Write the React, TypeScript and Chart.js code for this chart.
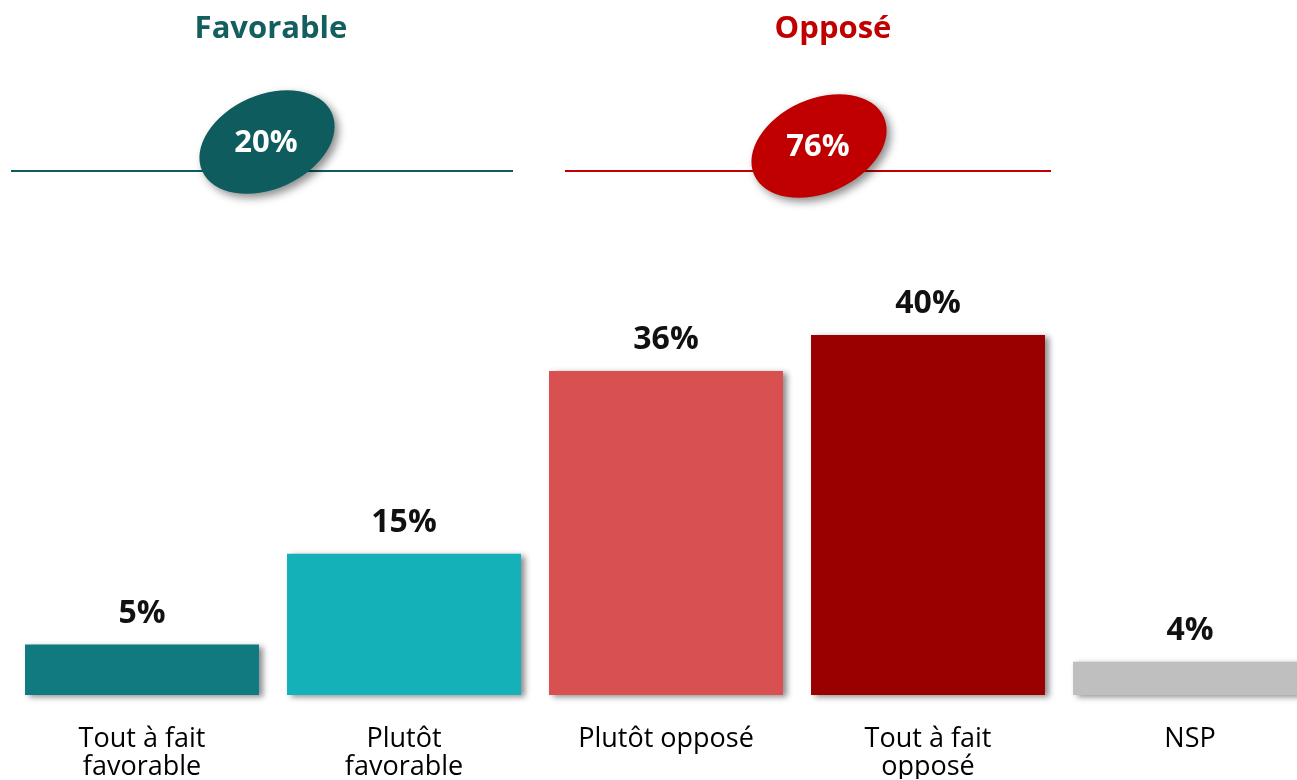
import React, { useEffect, useRef } from 'react';
import { Chart, registerables } from 'chart.js';

Chart.register(...registerables);

const categories: string[][] = [
  ['Tout à fait', 'favorable'],
  ['Plutôt', 'favorable'],
  ['Plutôt opposé'],
  ['Tout à fait', 'opposé'],
  ['NSP'],
];
const values = [5.6, 15.7, 36, 40, 3.7];
const valueLabels = ['5%', '15%', '36%', '40%', '4%'];
const barColors = ['#107a80', '#14b1b8', '#d95050', '#990000', '#bfbfbf'];

const groupTitles = ['Favorable', 'Opposé'];
const groupTotals = ['20%', '76%'];
const groupColors = ['#0e5c5e', '#c00000'];
const groupTitleColors = ['#135e5f', '#c00000'];

const FONT = '"Open Sans", "Noto Sans", sans-serif';

const groupLayout = [
  { titleX: 271, lineX1: 11, lineX2: 513, ellX: 267, ellY: 142 },
  { titleX: 833, lineX1: 565, lineX2: 1051, ellX: 819, ellY: 146 },
];

const barShadowPlugin = {
  id: 'barShadow',
  beforeDatasetsDraw(chart: any) {
    const ctx = chart.ctx;
    ctx.save();
    ctx.shadowColor = 'rgba(0,0,0,0.45)';
    ctx.shadowBlur = 6;
    ctx.shadowOffsetX = 4;
    ctx.shadowOffsetY = 2;
  },
  afterDatasetsDraw(chart: any) {
    const ctx = chart.ctx;
    ctx.restore();
    const meta = chart.getDatasetMeta(0);
    ctx.save();
    ctx.fillStyle = '#111';
    ctx.font = `bold 32px ${FONT}`;
    ctx.textAlign = 'center';
    ctx.textBaseline = 'alphabetic';
    meta.data.forEach((el: any, i: number) => {
      ctx.fillText(valueLabels[i], el.x, el.y - 22);
    });
    ctx.restore();
  },
};

const headerPlugin = {
  id: 'header',
  afterDraw(chart: any) {
    const ctx = chart.ctx;
    groupLayout.forEach((g, i) => {
      ctx.save();
      ctx.fillStyle = groupTitleColors[i];
      ctx.font = `bold 31px ${FONT}`;
      ctx.textAlign = 'center';
      ctx.textBaseline = 'alphabetic';
      ctx.fillText(groupTitles[i], g.titleX, 38);
      ctx.strokeStyle = groupColors[i];
      ctx.lineWidth = 2;
      ctx.beginPath();
      ctx.moveTo(g.lineX1, 171);
      ctx.lineTo(g.lineX2, 171);
      ctx.stroke();
      ctx.save();
      ctx.shadowColor = 'rgba(0,0,0,0.45)';
      ctx.shadowBlur = 8;
      ctx.shadowOffsetX = 4;
      ctx.shadowOffsetY = 4;
      ctx.fillStyle = groupColors[i];
      ctx.beginPath();
      ctx.ellipse(g.ellX, g.ellY, 71, 47, -0.42, 0, Math.PI * 2);
      ctx.fill();
      ctx.restore();
      ctx.fillStyle = '#ffffff';
      ctx.font = `bold 31px ${FONT}`;
      ctx.textAlign = 'center';
      ctx.textBaseline = 'middle';
      ctx.fillText(groupTotals[i], g.ellX - 1, g.ellY + 1);
      ctx.restore();
    });
  },
};

export default function App() {
  const canvasRef = useRef<HTMLCanvasElement | null>(null);

  useEffect(() => {
    if (!canvasRef.current) return;
    const chart = new Chart(canvasRef.current, {
      type: 'bar',
      data: {
        labels: categories,
        datasets: [
          {
            data: values,
            backgroundColor: barColors,
            borderWidth: 0,
            categoryPercentage: 1,
            barPercentage: 0.893,
            clip: false as any,
          },
        ],
      },
      options: {
        animation: false,
        responsive: true,
        maintainAspectRatio: false,
        layout: { padding: { left: 11, right: 0, top: 245, bottom: 1 } },
        plugins: {
          legend: { display: false },
          tooltip: { enabled: false },
        },
        scales: {
          x: {
            grid: { display: false, drawTicks: false },
            border: { display: false },
            afterFit: (scale: any) => {
              scale.height = 84;
            },
            ticks: {
              color: '#000',
              padding: 30,
              font: { family: FONT, size: 27, lineHeight: 1.04 },
              maxRotation: 0,
              autoSkip: false,
            },
          },
          y: {
            display: false,
            min: 0,
            max: 50,
          },
        },
      },
      plugins: [barShadowPlugin, headerPlugin],
    });
    return () => chart.destroy();
  }, []);

  return (
    <div
      style={{
        position: 'fixed',
        left: 0,
        top: 0,
        width: 1297,
        height: 780,
        overflow: 'hidden',
        background: '#fff',
      }}
    >
      <div style={{ position: 'relative', width: 1321, height: 780 }}>
        <canvas ref={canvasRef} />
      </div>
    </div>
  );
}
